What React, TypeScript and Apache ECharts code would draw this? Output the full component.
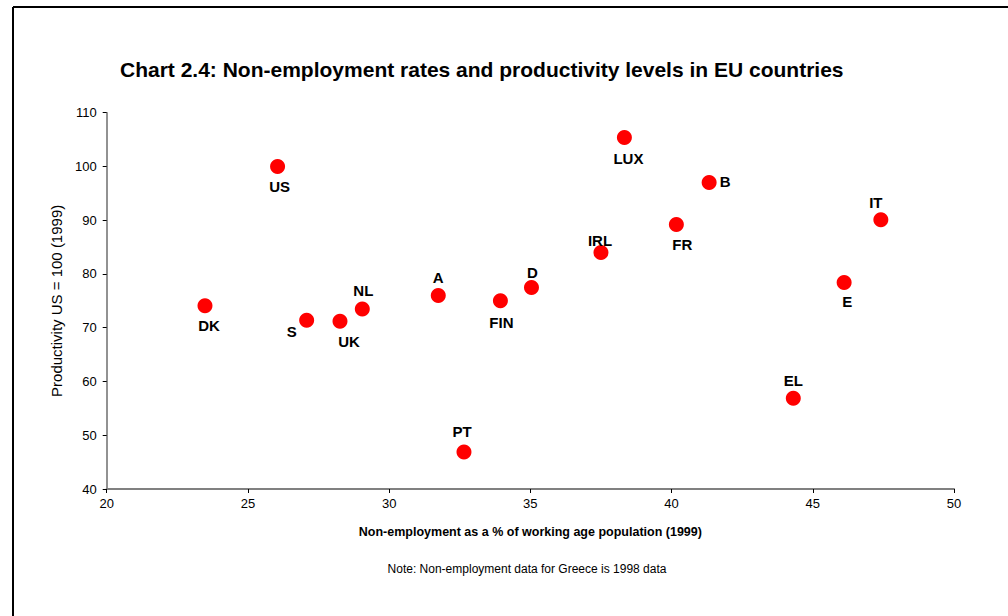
import React, { useEffect, useRef } from "react";
import * as echarts from "echarts";

// Country codes with non-employment rate (% of working age population, 1999)
// and productivity level (US = 100, 1999).
const countries = ["US", "DK", "S", "UK", "NL", "A", "PT", "FIN", "D", "IRL", "LUX", "FR", "B", "EL", "E", "IT"];
const nonEmployment = [26.05, 23.48, 27.08, 28.26, 29.05, 31.74, 32.65, 33.94, 35.04, 37.5, 38.33, 40.17, 41.33, 44.31, 46.11, 47.41];
const productivity = [100.0, 74.1, 71.4, 71.2, 73.5, 76.0, 46.9, 75.0, 77.5, 84.0, 105.4, 89.2, 97.0, 56.9, 78.4, 90.1];

const xTicks = [20, 25, 30, 35, 40, 45, 50];
const yTicks = [40, 50, 60, 70, 80, 90, 100, 110];

// Where each country tag sits relative to its marker (pixels).
const labelOffset: Record<string, [number, number]> = {
  US: [2, 20],
  DK: [4, 20],
  S: [-15, 11],
  UK: [9, 20],
  NL: [1, -18],
  A: [0, -18],
  PT: [-2, -20],
  FIN: [1, 22],
  D: [1, -15],
  IRL: [-1, -12],
  LUX: [4, 21],
  FR: [6, 20],
  B: [16, -1],
  EL: [0, -18],
  E: [3, 19],
  IT: [-5, -17],
};

const FONT = "Arial, 'Liberation Sans', sans-serif";

export default function App() {
  const ref = useRef<HTMLDivElement>(null);

  useEffect(() => {
    if (!ref.current) return;
    const chart = echarts.init(ref.current, undefined, { renderer: "svg" });

    const points = countries.map((c, i) => ({
      name: c,
      value: [nonEmployment[i], productivity[i]],
      label: { offset: labelOffset[c] },
    }));

    chart.setOption({
      animation: false,
      backgroundColor: "#ffffff",
      title: {
        text: "Chart 2.4: Non-employment rates and productivity levels in EU countries",
        left: 115,
        top: 54,
        textStyle: { fontFamily: FONT, fontSize: 21, fontWeight: "bold", color: "#000" },
      },
      grid: { left: 106.7, right: 54, top: 112.7, bottom: 127, containLabel: false },
      xAxis: {
        type: "value",
        min: xTicks[0],
        max: xTicks[xTicks.length - 1],
        interval: 5,
        name: "Non-employment as a % of working age population (1999)",
        nameLocation: "middle",
        nameGap: 36,
        nameTextStyle: { fontFamily: FONT, fontSize: 12.5, fontWeight: "bold", color: "#000" },
        axisLine: { show: true, lineStyle: { color: "#808080", width: 2 } },
        axisTick: { show: true, inside: false, length: 4, lineStyle: { color: "#000", width: 1 } },
        axisLabel: { fontFamily: FONT, fontSize: 13, color: "#000", margin: 8 },
        splitLine: { show: false },
      },
      yAxis: {
        type: "value",
        min: yTicks[0],
        max: yTicks[yTicks.length - 1],
        interval: 10,
        name: "Productivity US = 100 (1999)",
        nameLocation: "middle",
        nameGap: 42,
        nameRotate: 90,
        nameTextStyle: { fontFamily: FONT, fontSize: 15, color: "#000" },
        axisLine: { show: true, lineStyle: { color: "#6e6e6e", width: 1.5 } },
        axisTick: { show: true, inside: false, length: 4, lineStyle: { color: "#000", width: 1 } },
        axisLabel: { fontFamily: FONT, fontSize: 13, color: "#000", margin: 10 },
        splitLine: { show: false },
      },
      series: [
        {
          type: "scatter",
          symbol: "circle",
          symbolSize: 15,
          itemStyle: { color: "#ff0000", opacity: 1 },
          data: points,
          label: {
            show: true,
            position: "inside",
            formatter: (p: any) => p.name,
            fontFamily: FONT,
            fontSize: 15,
            fontWeight: "bold",
            color: "#000",
          },
        },
      ],
      graphic: [
        {
          type: "line",
          shape: { x1: 13, y1: 7, x2: 1008, y2: 7 },
          style: { stroke: "#000", lineWidth: 2 },
        },
        {
          type: "line",
          shape: { x1: 13, y1: 7, x2: 13, y2: 616 },
          style: { stroke: "#000", lineWidth: 2 },
        },
        {
          type: "text",
          x: 527,
          y: 569,
          style: {
            text: "Note: Non-employment data for Greece is 1998 data",
            fontFamily: FONT,
            fontSize: 12,
            fill: "#000",
            align: "center",
            verticalAlign: "middle",
          },
        },
      ],
    });

    return () => chart.dispose();
  }, []);

  return (
    <div
      ref={ref}
      style={{ position: "fixed", left: 0, top: 0, width: 1008, height: 616, background: "#fff" }}
    />
  );
}
